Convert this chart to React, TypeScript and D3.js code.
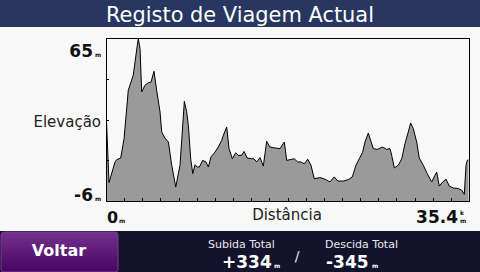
import React from "react";
import * as d3 from "d3";

const distanceKm = [
  0.0, 0.29, 0.88, 1.04, 1.43, 1.76, 2.17, 2.66, 3.05, 3.15, 3.32, 3.48, 3.8, 4.13, 4.39, 4.68, 4.94, 5.27, 5.43, 5.75,
  6.08, 6.41, 6.8, 7.22, 7.64, 7.87, 8.03, 8.26, 8.46, 8.68, 8.9, 9.1, 9.43, 9.75, 9.98, 10.24, 10.63, 10.95, 11.28, 11.44,
  11.77, 12.0, 12.32, 12.65, 12.9, 13.23, 13.46, 13.78, 14.21, 14.43, 14.7, 15.02, 15.34, 15.67, 15.99, 16.48, 16.97, 17.39, 17.62, 17.94,
  18.36, 18.69, 19.02, 19.34, 19.67, 19.99, 20.31, 20.87, 21.36, 21.84, 22.26, 22.6, 23.14, 23.63, 24.02, 24.38, 24.7, 25.03, 25.26, 25.58,
  25.81, 26.07, 26.46, 26.98, 27.37, 27.7, 27.86, 28.12, 28.51, 28.84, 29.16, 29.48, 29.71, 29.97, 30.3, 30.55, 30.94, 31.33, 31.76, 32.08,
  32.25, 32.5, 32.84, 33.16, 33.48, 33.87, 34.36, 34.69, 34.94, 35.11, 35.23, 35.35,
];
const elevationM = [
  34.5, 2.0, 11.0, 12.0, 12.7, 21.1, 42.2, 48.8, 61.8, 64.7, 60.3, 41.5, 44.4, 45.5, 45.8, 50.5, 42.2, 32.8, 24.1, 21.4,
  19.7, 9.6, 0.1, 9.6, 37.4, 32.8, 27.0, 12.4, 5.9, 9.8, 8.8, 8.8, 11.7, 11.0, 8.8, 13.2, 15.3, 17.5, 20.4, 22.6,
  26.2, 16.8, 12.4, 15.0, 13.9, 13.9, 15.6, 12.7, 12.4, 12.4, 11.0, 12.9, 9.2, 20.0, 17.5, 17.1, 16.8, 19.7, 11.7, 12.0,
  12.4, 11.0, 11.0, 10.2, 12.2, 9.6, 3.7, 4.2, 3.5, 2.3, 4.5, 2.7, 2.7, 3.3, 4.5, 9.6, 12.4, 15.3, 19.7, 23.6,
  20.4, 16.8, 16.5, 17.5, 16.5, 16.8, 13.9, 8.4, 9.6, 12.4, 19.0, 24.1, 28.0, 25.5, 19.7, 12.7, 9.6, 5.9, 2.3, 5.2,
  6.6, 0.5, 2.3, 3.5, 0.5, -0.3, -0.6, -1.3, -3.1, 9.6, 11.7, 11.9,
];

const title = "Registo de Viagem Actual";
const yMinLabel = "-6";
const yMaxLabel = "65";
const xMinLabel = "0";
const xMaxLabel = "35.4";
const yAxisTitle = "Elevação";
const xAxisTitle = "Distância";
const ascentLabel = "Subida Total";
const ascentValue = "+334";
const descentLabel = "Descida Total";
const descentValue = "-345";
const backLabel = "Voltar";

const X_MAX = 35.4;
const Y_MIN = -6;
const Y_MAX = 65;
const X_TICK_COUNT = 20;
const Y_TICK_COUNT = 4;

const FONT = "'DejaVu Sans', sans-serif";

export default function App() {
  const left = 106, right = 469, top = 38, bottom = 201;
  const x = d3.scaleLinear().domain([0, X_MAX]).range([left, right]);
  const y = d3.scaleLinear().domain([Y_MIN, Y_MAX]).range([bottom, top]);
  const pts = distanceKm.map((d, i) => [d, elevationM[i]] as [number, number]);
  const area = d3
    .area<[number, number]>()
    .x((d) => x(d[0]))
    .y0(y(Y_MIN))
    .y1((d) => y(d[1]));
  const line = d3
    .line<[number, number]>()
    .x((d) => x(d[0]))
    .y((d) => y(d[1]));
  const xTicks = d3.range(1, X_TICK_COUNT).map((i) => (i * X_MAX) / X_TICK_COUNT);
  const yTicks = d3.range(1, Y_TICK_COUNT).map((i) => Y_MIN + (i * (Y_MAX - Y_MIN)) / Y_TICK_COUNT);

  return (
    <svg
      width={480}
      height={272}
      style={{ position: "absolute", left: 0, top: 0, display: "block" }}
      fontFamily={FONT}
    >
      <defs>
        <linearGradient id="btn" x1="0" y1="0" x2="0" y2="1">
          <stop offset="0" stopColor="#73328d" />
          <stop offset="0.5" stopColor="#5e1a78" />
          <stop offset="1" stopColor="#480660" />
        </linearGradient>
        <clipPath id="plot">
          <rect x={left} y={top} width={right - left} height={bottom - top} />
        </clipPath>
      </defs>
      <rect x={0} y={0} width={480} height={272} fill="#f8f8f8" />
      {/* title bar */}
      <rect x={0} y={0} width={480} height={27} fill="#28375f" />
      <text x={240} y={22} fill="#ffffff" fontSize={21} textAnchor="middle" textLength={268} lengthAdjust="spacingAndGlyphs">
        {title}
      </text>

      {/* chart */}
      <g clipPath="url(#plot)">
        <path d={area(pts) || ""} fill="#9a9a9a" />
        <path d={line(pts) || ""} fill="none" stroke="#000" strokeWidth={1} strokeLinejoin="round" />
      </g>
      {xTicks.map((t, i) => (
        <line key={"xt" + i} x1={Math.round(x(t)) + 0.5} x2={Math.round(x(t)) + 0.5} y1={bottom} y2={bottom - 3} stroke="#000" />
      ))}
      {yTicks.map((t, i) => (
        <line key={"yt" + i} x1={left} x2={left + 3} y1={Math.round(y(t)) + 0.5} y2={Math.round(y(t)) + 0.5} stroke="#000" />
      ))}
      <rect x={left + 0.5} y={top + 0.5} width={right - left} height={bottom - top} fill="none" stroke="#000" strokeWidth={1} />

      {/* y labels */}
      <text x={93} y={57} fontSize={17} fontWeight="bold" textAnchor="end" fill="#111">{yMaxLabel}</text>
      <text x={95} y={57} fontSize={6} fontWeight="bold" fill="#111">m</text>
      <text x={93} y={201} fontSize={17} fontWeight="bold" textAnchor="end" fill="#111">{yMinLabel}</text>
      <text x={95} y={201} fontSize={6} fontWeight="bold" fill="#111">m</text>
      <text x={101} y={127} fontSize={15} textAnchor="end" fill="#222">{yAxisTitle}</text>

      {/* x labels */}
      <text x={107} y={223} fontSize={16} fontWeight="bold" fill="#111">{xMinLabel}</text>
      <text x={119} y={223} fontSize={6} fontWeight="bold" fill="#111">m</text>
      <text x={287} y={220} fontSize={15} textAnchor="middle" fill="#222">{xAxisTitle}</text>
      <text x={458} y={223} fontSize={17} fontWeight="bold" textAnchor="end" fill="#111">{xMaxLabel}</text>
      <text x={460} y={215} fontSize={6} fontWeight="bold" fill="#111">k</text>
      <text x={460} y={223} fontSize={6} fontWeight="bold" fill="#111">m</text>

      {/* bottom bar */}
      <rect x={0} y={231} width={480} height={41} fill="#13132b" />
      <rect x={1} y={232} width={117} height={40} rx={3} fill="url(#btn)" stroke="#7a3b93" strokeWidth={1} />
      <text x={59} y={256} fontSize={16} fontWeight="bold" textAnchor="middle" fill="#ffffff">{backLabel}</text>

      <text x={208} y={248} fontSize={11} fill="#e8e8f0">{ascentLabel}</text>
      <text x={222} y={268} fontSize={17} fontWeight="bold" fill="#ffffff">{ascentValue}</text>
      <text x={274} y={268} fontSize={6} fontWeight="bold" fill="#ffffff">m</text>
      <text x={297} y={261} fontSize={14} textAnchor="middle" fill="#e8e8f0">/</text>
      <text x={325} y={248} fontSize={11} fill="#e8e8f0">{descentLabel}</text>
      <text x={326} y={268} fontSize={17} fontWeight="bold" fill="#ffffff">{descentValue}</text>
      <text x={372} y={268} fontSize={6} fontWeight="bold" fill="#ffffff">m</text>
    </svg>
  );
}
